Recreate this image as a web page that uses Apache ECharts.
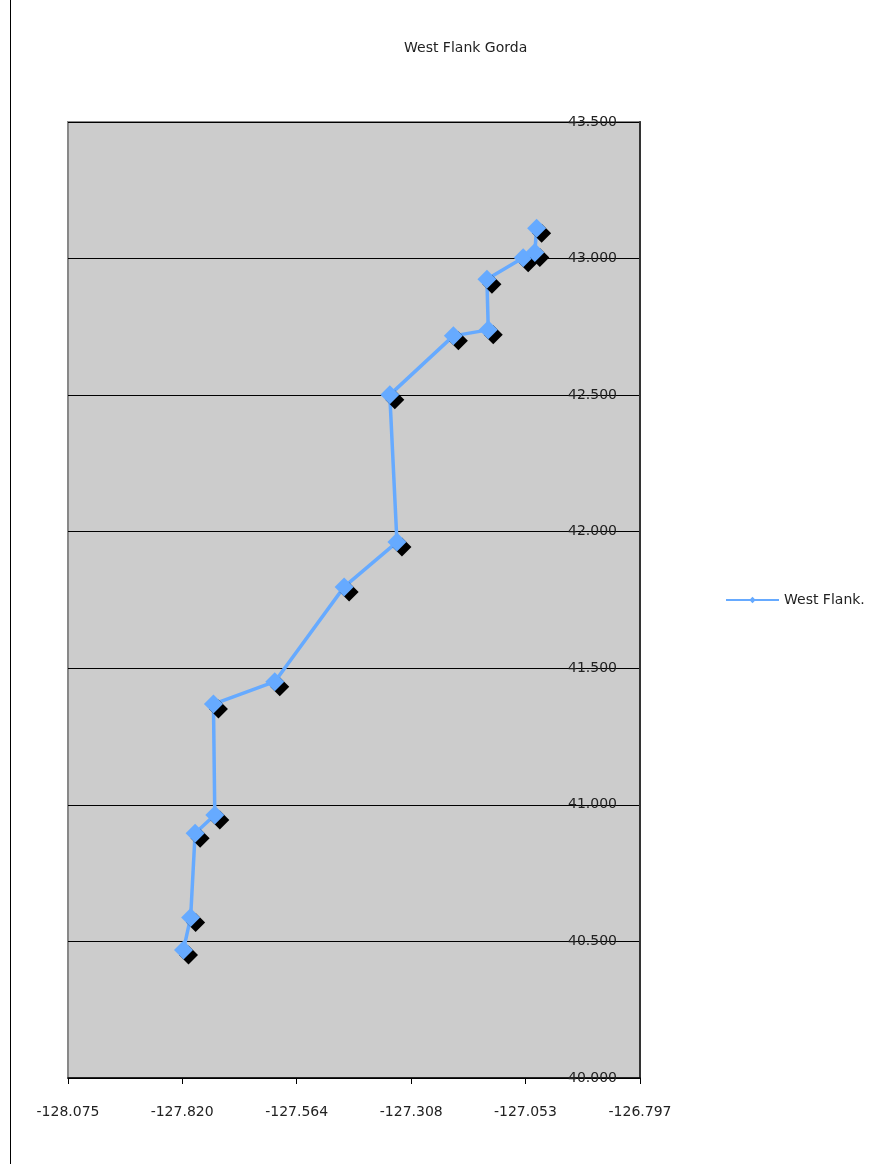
<!DOCTYPE html>
<html>
<head>
<meta charset="utf-8">
<script src="https://cdn.jsdelivr.net/npm/echarts@6/dist/echarts.min.js"></script>
<style>
html,body{margin:0;padding:0;background:#fff;}
#chart{width:881px;height:1164px;}
</style>
</head>
<body>
<div id="chart"></div>
<script>
const title = 'West Flank Gorda';
const seriesName = 'West Flank.';
const longitudes = [-127.817, -127.801, -127.791, -127.747, -127.750, -127.613, -127.458, -127.340, -127.356, -127.214, -127.136, -127.139, -127.058, -127.032, -127.028];
const latitudes  = [40.469, 40.588, 40.896, 40.963, 41.369, 41.451, 41.798, 41.962, 42.501, 42.717, 42.739, 42.924, 43.003, 43.022, 43.111];
const xTicks = [-128.075, -127.820, -127.564, -127.308, -127.053, -126.797];
const yMin = 40.0, yMax = 43.5, yStep = 0.5;

const points = longitudes.map((x, i) => [x, latitudes[i]]);
const font = 'DejaVu Sans';

const chart = echarts.init(document.getElementById('chart'), null, {renderer: 'canvas'});
chart.setOption({
  animation: false,
  backgroundColor: '#ffffff',
  title: {
    text: title,
    left: 399, top: 36,
    textStyle: {fontFamily: font, fontSize: 14, fontWeight: 'normal', color: '#222'}
  },
  legend: {
    left: 725, top: 593, padding: 0,
    itemWidth: 53, itemHeight: 8, itemGap: 0,
    textStyle: {fontFamily: font, fontSize: 14, color: '#222', padding: [0,0,0,0]},
    data: [{name: seriesName, itemStyle: {shadowColor: 'transparent', shadowOffsetX: 0, shadowOffsetY: 0}}]
  },
  grid: {
    left: 68, right: 241, top: 122, bottom: 86,
    show: true, backgroundColor: '#cccccc', borderColor: '#888888', borderWidth: 2
  },
  xAxis: {
    type: 'value',
    min: xTicks[0], max: xTicks[xTicks.length - 1],
    axisLine: {show: true, onZero: false, lineStyle: {color: '#000', width: 1.5}},
    axisTick: {show: true, length: 6, lineStyle: {color: '#000'}, customValues: xTicks},
    axisLabel: {
      customValues: xTicks, margin: 27,
      fontFamily: font, fontSize: 14, color: '#222',
      formatter: v => v.toFixed(3)
    },
    splitLine: {show: false}
  },
  yAxis: {
    type: 'value', position: 'right',
    min: yMin, max: yMax, interval: yStep,
    axisLine: {show: true, lineStyle: {color: '#333', width: 2}},
    axisTick: {show: false},
    axisLabel: {
      inside: true, margin: 23,
      fontFamily: font, fontSize: 14, color: '#222',
      formatter: v => v.toFixed(3)
    },
    splitLine: {show: true, lineStyle: {color: '#000', width: 1}}
  },
  series: [{
    name: seriesName,
    type: 'line',
    data: points,
    symbol: 'diamond',
    symbolSize: 19,
    lineStyle: {color: '#66aaff', width: 3.5},
    itemStyle: {color: '#66aaff', shadowColor: '#000', shadowOffsetX: 5, shadowOffsetY: 5, shadowBlur: 0.001}
  }],
  graphic: [{
    type: 'line', silent: true,
    shape: {x1: 10.5, y1: 0, x2: 10.5, y2: 1164},
    style: {stroke: '#000', lineWidth: 1}
  }]
});
</script>
</body>
</html>
